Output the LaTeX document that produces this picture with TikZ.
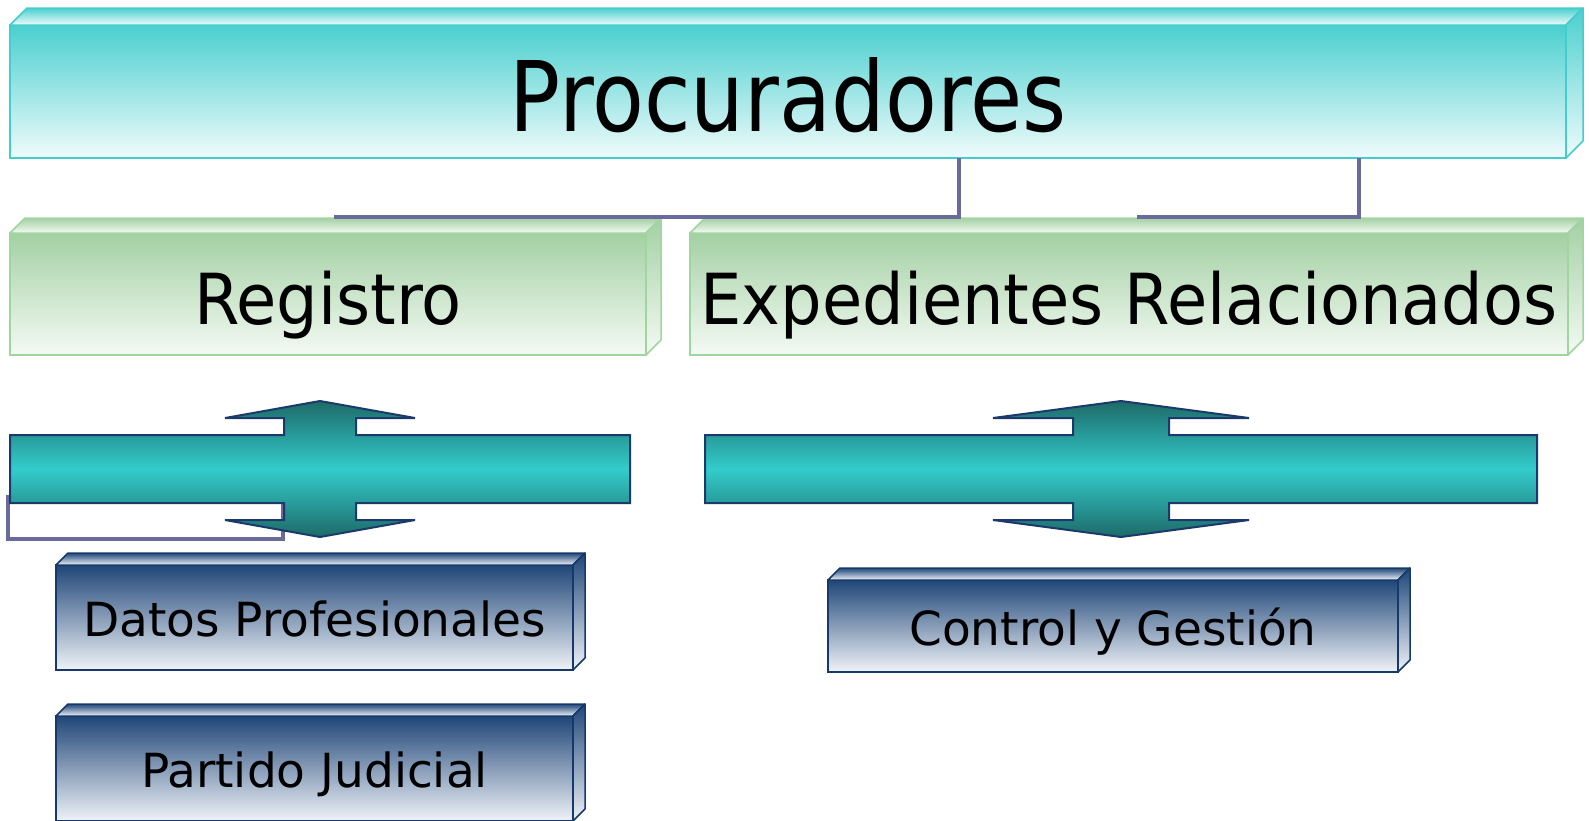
\documentclass[tikz,border=0pt]{standalone}
\usepackage{fontspec}
\setmainfont{DejaVu Sans}
\newfontfamily\titlefont{DejaVu Sans}[FakeStretch=0.87]
\newfontfamily\levelfont{DejaVu Sans}[FakeStretch=0.93]
\usepackage{tikz}
\usetikzlibrary{positioning, calc, shapes}

\definecolor{tealtop}{HTML}{4ACFCF}
\definecolor{tealbot}{HTML}{F0FBFB}
\definecolor{tealline}{HTML}{45CCCC}
\definecolor{greentop}{HTML}{A3D0A3}
\definecolor{greenbot}{HTML}{F4FAF4}
\definecolor{greenline}{HTML}{A0D5A0}
\definecolor{navytop}{HTML}{1F4678}
\definecolor{navybot}{HTML}{F0F3F8}
\definecolor{navyline}{HTML}{15396A}
\definecolor{arrowdark}{HTML}{1D6A68}
\definecolor{arrowlight}{HTML}{33CCCC}
\definecolor{arrowline}{HTML}{1B3A6B}
\definecolor{connline}{HTML}{6A6A9C}

\begin{document}
\begin{tikzpicture}[x=1pt, y=-1pt,
  box/.style={rectangle, inner sep=0pt, outer sep=0pt, line width=1.5pt, text=black},
  probox/.style={box, draw=tealline, top color=tealtop, bottom color=tealbot,
    font=\titlefont\fontsize{97.4pt}{100pt}\selectfont, text height=79pt, text depth=0pt},
  levelbox/.style={box, draw=greenline, top color=greentop, bottom color=greenbot,
    font=\levelfont\fontsize{70.4pt}{72pt}\selectfont, text height=60pt, text depth=0pt},
  itembox/.style={box, draw=navyline, top color=navytop, bottom color=navybot,
    font=\fontsize{47pt}{49pt}\selectfont, text height=38pt, text depth=0pt},
  tealface/.style={draw=tealline, line width=1.5pt, line join=round, top color=tealtop, bottom color=tealbot},
  greenface/.style={draw=greenline, line width=1.5pt, line join=round, top color=greentop, bottom color=greenbot},
  navyface/.style={draw=navyline, line width=1.5pt, line join=round, top color=navytop, bottom color=navybot},
  conn/.style={draw=connline, line width=3.2pt},
  crossarrow/.style={draw=arrowline, line width=2pt, line join=miter,
    top color=arrowdark, bottom color=arrowdark, middle color=arrowlight}]

\useasboundingbox (0,0) rectangle (1589,820);

% joints of the connectors
\coordinate (j1) at (959,217);
\coordinate (j2) at (1359,217);
\coordinate (b1) at (8,495);
\coordinate (b2) at (283,500);
\coordinate (brk) at (283,539);

% front faces
\node[probox, minimum width=1556pt, minimum height=133pt] (proc) at (788,91.5) {Procuradores};
\node[levelbox, minimum width=636pt, minimum height=122pt] (reg) at (328,294) {Registro};
\node[levelbox, minimum width=878pt, minimum height=122pt] (exped) at (1129,294) {Expedientes Relacionados};
\node[itembox, minimum width=517pt, minimum height=105pt] (datos) at (314.5,617.5) {Datos Profesionales};
\node[itembox, minimum width=517pt, minimum height=105pt] (partido) at (314.5,768.5) {Partido Judicial};
\node[itembox, minimum width=570pt, minimum height=92pt] (control) at (1113,626) {Control y Gestión};

% top and side faces
\foreach \n/\d/\s in {proc/17/tealface, reg/15/greenface, exped/15/greenface,
    datos/12/navyface, partido/12/navyface, control/12/navyface} {
  \draw[\s] (\n.north west) -- ++(\d,-\d) -- ([shift={(\d,-\d)}]\n.north east) -- (\n.north east) -- cycle;
  \draw[\s] (\n.north east) -- ++(\d,-\d) -- ([shift={(\d,-\d)}]\n.south east) -- (\n.south east) -- cycle;
}

% connectors
\draw[conn] (j1 |- proc.south) -- (j1) -- ([xshift=6pt]j1 -| reg.north);
\draw[conn] (j2 |- proc.south) -- (j2) -- ([xshift=8pt]j2 -| exped.north);
\draw[conn] (b1) |- (brk) -- (b2);

% double arrows
\foreach \cx/\bw/\sw/\ww in {320/310/36/95, 1121/416/48/128} {
  \draw[crossarrow] (\cx,401) -- (\cx+\ww,418) -- (\cx+\sw,418) -- (\cx+\sw,435) -- (\cx+\bw,435)
    -- (\cx+\bw,503) -- (\cx+\sw,503) -- (\cx+\sw,520) -- (\cx+\ww,520) -- (\cx,537)
    -- (\cx-\ww,520) -- (\cx-\sw,520) -- (\cx-\sw,503) -- (\cx-\bw,503) -- (\cx-\bw,435)
    -- (\cx-\sw,435) -- (\cx-\sw,418) -- (\cx-\ww,418) -- cycle;
}
\end{tikzpicture}
\end{document}
